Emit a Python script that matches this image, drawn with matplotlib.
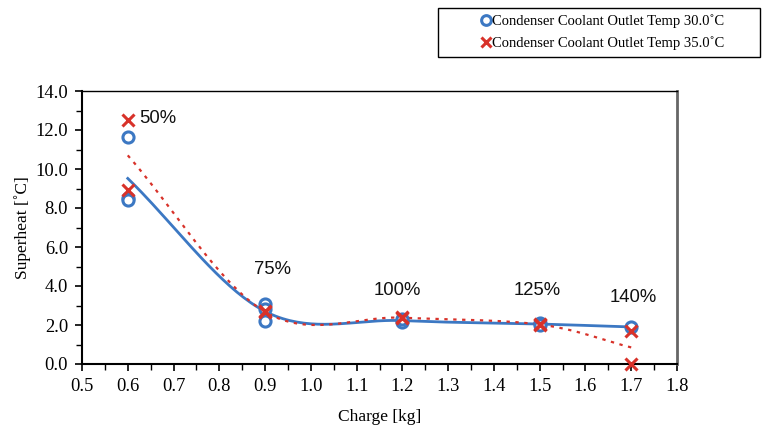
import numpy as np
import matplotlib
matplotlib.use("Agg")
import matplotlib.pyplot as plt
from matplotlib.ticker import MultipleLocator, FormatStrFormatter
from matplotlib.lines import Line2D
from matplotlib.patches import Rectangle

# Data
x30 = [0.6, 0.6, 0.6, 0.9, 0.9, 0.9, 1.2, 1.2, 1.5, 1.5, 1.7]
y30 = [11.65, 8.5, 8.4, 3.1, 2.2, 2.8, 2.15, 2.3, 2.1, 2.0, 1.9]
x35 = [0.6, 0.6, 0.9, 0.9, 1.2, 1.2, 1.5, 1.5, 1.7, 1.7]
y35 = [12.5, 8.9, 2.7, 2.65, 2.4, 2.35, 2.0, 2.05, 1.7, 0.0]
label30 = "Condenser Coolant Outlet Temp 30.0˚C"
label35 = "Condenser Coolant Outlet Temp 35.0˚C"
pct_labels = ["50%", "75%", "100%", "125%", "140%"]
pct_x = [0.665, 0.917, 1.19, 1.495, 1.705]
pct_y = [12.6, 4.85, 3.75, 3.75, 3.4]

BLUE = "#3c78c3"
RED = "#d8322a"


def means(xs, ys):
    ux = sorted(set(xs))
    m = [np.mean([y for x, y in zip(xs, ys) if x == u]) for u in ux]
    return np.array(ux), np.array(m)


def smooth(px, py, n=40):
    # Catmull-Rom style smoothing (similar to spreadsheet "smoothed line")
    P = np.column_stack([px, py])
    P = np.vstack([2 * P[0] - P[1], P, 2 * P[-1] - P[-2]])
    out = []
    t = np.linspace(0, 1, n)[:, None]
    for i in range(1, len(P) - 2):
        p0, p1, p2, p3 = P[i - 1], P[i], P[i + 1], P[i + 2]
        c1 = p1 + (p2 - p0) / 6
        c2 = p2 - (p3 - p1) / 6
        seg = ((1 - t) ** 3) * p1 + 3 * ((1 - t) ** 2) * t * c1 + 3 * (1 - t) * t ** 2 * c2 + t ** 3 * p2
        out.append(seg)
    out = np.vstack(out)
    return out[:, 0], out[:, 1]


plt.rcParams['font.family'] = ['Liberation Serif', 'DejaVu Serif']
fig = plt.figure(figsize=(7.62, 4.30), dpi=100)
ax = fig.add_axes([82 / 762, 1 - 364 / 430, (677 - 82) / 762, (364 - 91) / 430])

mx30, my30 = means(x30, y30)
mx35, my35 = means(x35, y35)
sx, sy = smooth(mx30, my30)
ax.plot(sx, sy, color=BLUE, lw=2.0, zorder=2)
sx, sy = smooth(mx35, my35)
ax.plot(sx, sy, color=RED, lw=1.6, ls=(0, (1.5, 2.5)), zorder=2)

ax.plot(x30, y30, ls="none", marker="o", ms=8, mfc="white", mec=BLUE, mew=2.2, zorder=3)
ax.plot(x35, y35, ls="none", marker="x", ms=8, mec=RED, mew=2.2, zorder=4, clip_on=False)

for t, xx, yy in zip(pct_labels, pct_x, pct_y):
    ax.text(xx, yy, t, ha="center", va="center", fontsize=13.3, family="Liberation Sans", color="#111111")

ax.set_xlim(0.5, 1.8)
ax.set_ylim(0, 14)
ax.xaxis.set_major_locator(MultipleLocator(0.1))
ax.xaxis.set_minor_locator(MultipleLocator(0.05))
ax.yaxis.set_major_locator(MultipleLocator(2))
ax.yaxis.set_minor_locator(MultipleLocator(1))
ax.xaxis.set_major_formatter(FormatStrFormatter("%.1f"))
ax.yaxis.set_major_formatter(FormatStrFormatter("%.1f"))
ax.tick_params(axis="both", which="major", direction="out", length=5, width=1.2, labelsize=13.3, pad=5)
ax.tick_params(axis="both", which="minor", direction="out", length=4, width=1.0)

for s in ["left", "bottom"]:
    ax.spines[s].set_linewidth(1.5)
    ax.spines[s].set_color("black")
ax.spines["top"].set_linewidth(1.0)
ax.spines["top"].set_color("black")
ax.spines["right"].set_linewidth(2.0)
ax.spines["right"].set_color("#666666")

ax.set_xlabel("Charge [kg]", fontsize=12.5, labelpad=10)
ax.set_ylabel("Superheat [˚C]", fontsize=12.5, labelpad=3)

# legend box
fig.patches.append(Rectangle((438 / 762, 1 - 57 / 430), (760 - 438) / 762, 49 / 430,
                             transform=fig.transFigure, fill=False, edgecolor="black", lw=1.0))
handles = [
    Line2D([], [], ls="none", marker="o", ms=7, mfc="white", mec=BLUE, mew=2.2),
    Line2D([], [], ls="none", marker="x", ms=7, mec=RED, mew=2.2),
]
leg = fig.legend(handles, [label30, label35], loc="center",
                 bbox_to_anchor=(603 / 762, 1 - 32 / 430),
                 fontsize=10.5, frameon=False,
                 handlelength=0.6, handletextpad=0.15, borderpad=0.0, labelspacing=0.6,
                 borderaxespad=0)

fig.savefig("out.png", dpi=100)
